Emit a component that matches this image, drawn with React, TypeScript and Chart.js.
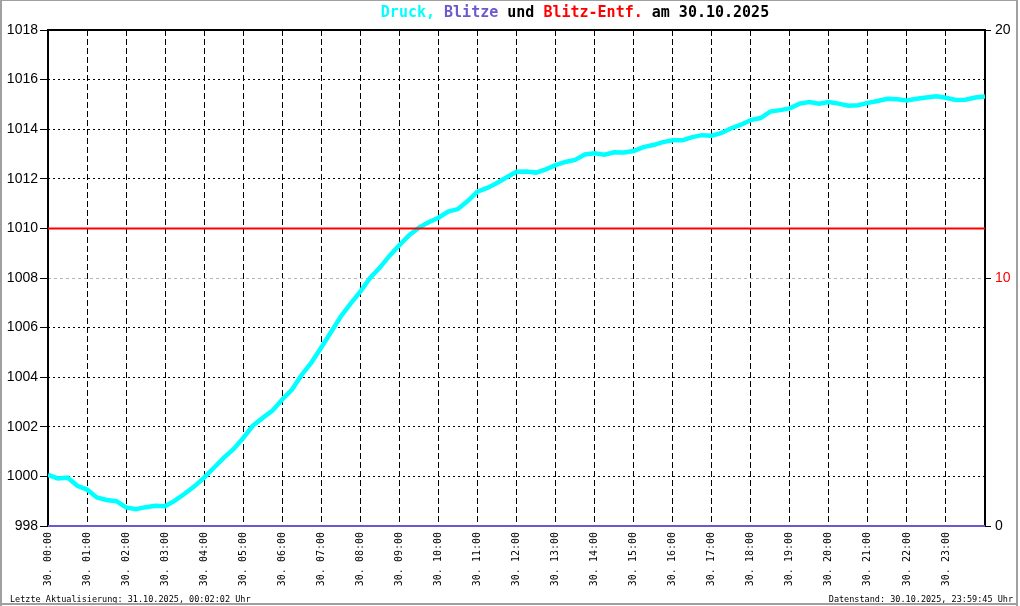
import React, { useEffect, useRef } from 'react';
import { Chart, registerables } from 'chart.js';

Chart.register(...registerables);

// Zeit in Minuten seit 00:00
const minuten = [
  0, 15, 30, 45, 60, 75, 90, 105, 120, 135,
  150, 165, 180, 195, 210, 225, 240, 255, 270, 285,
  300, 315, 330, 345, 360, 375, 390, 405, 420, 435,
  450, 465, 480, 495, 510, 525, 540, 555, 570, 585,
  600, 615, 630, 645, 660, 675, 690, 705, 720, 735,
  750, 765, 780, 795, 810, 825, 840, 855, 870, 885,
  900, 915, 930, 945, 960, 975, 990, 1005, 1020, 1035,
  1050, 1065, 1080, 1095, 1110, 1125, 1140, 1155, 1170, 1185,
  1200, 1215, 1230, 1245, 1260, 1275, 1290, 1305, 1320, 1335,
  1350, 1365, 1380, 1395, 1410, 1425, 1440,
];

// Luftdruck in hPa
const druck = [
  1000.06, 999.92, 999.95, 999.62, 999.47, 999.15, 999.05, 999.0, 998.75, 998.68,
  998.76, 998.82, 998.8, 999.02, 999.3, 999.6, 999.95, 1000.35, 1000.75, 1001.1,
  1001.55, 1002.05, 1002.36, 1002.65, 1003.1, 1003.5, 1004.1, 1004.6, 1005.2, 1005.82,
  1006.45, 1006.97, 1007.45, 1008.0, 1008.42, 1008.9, 1009.32, 1009.73, 1010.03, 1010.25,
  1010.43, 1010.68, 1010.78, 1011.1, 1011.48, 1011.63, 1011.83, 1012.06, 1012.28, 1012.29,
  1012.25, 1012.38, 1012.55, 1012.68, 1012.76, 1012.98, 1013.03, 1012.97, 1013.07, 1013.06,
  1013.12, 1013.28, 1013.36, 1013.48, 1013.55, 1013.55, 1013.68, 1013.76, 1013.74, 1013.85,
  1014.04, 1014.18, 1014.37, 1014.45, 1014.71, 1014.77, 1014.84, 1015.03, 1015.1, 1015.03,
  1015.1, 1015.03, 1014.95, 1014.97, 1015.06, 1015.14, 1015.23, 1015.21, 1015.16, 1015.23,
  1015.28, 1015.33, 1015.27, 1015.18, 1015.19, 1015.28, 1015.32,
];

// Blitze (Anzahl) und Blitz-Entfernung, rechte Achse
const blitzeZeit = [0, 1440];
const blitze = [0, 0];
const blitzEntfZeit = [0, 1440];
const blitzEntf = [12, 12];

const stundenLabels = [
  '30. 00:00', '30. 01:00', '30. 02:00', '30. 03:00', '30. 04:00', '30. 05:00',
  '30. 06:00', '30. 07:00', '30. 08:00', '30. 09:00', '30. 10:00', '30. 11:00',
  '30. 12:00', '30. 13:00', '30. 14:00', '30. 15:00', '30. 16:00', '30. 17:00',
  '30. 18:00', '30. 19:00', '30. 20:00', '30. 21:00', '30. 22:00', '30. 23:00',
];

const titelTeile: [string, string][] = [
  ['Druck,', '#00ffff'],
  [' ', '#000000'],
  ['Blitze', '#6a5acd'],
  [' und ', '#000000'],
  ['Blitz-Entf.', '#ff0000'],
  [' am 30.10.2025', '#000000'],
];

const fussLinks = 'Letzte Aktualisierung: 31.10.2025, 00:02:02 Uhr';
const fussRechts = 'Datenstand: 30.10.2025, 23:59:45 Uhr';

const MONO = "'DejaVu Sans Mono', monospace";
const SANS = "'Liberation Sans', Arial, sans-serif";

const zeichenPlugin = {
  id: 'zeichen',
  beforeDatasetsDraw(chart: any) {
    const { ctx, chartArea } = chart;
    const { left, top, right, bottom } = chartArea;
    ctx.save();
    ctx.strokeStyle = '#000';
    ctx.lineWidth = 2;
    ctx.strokeRect(left, top, right - left, bottom - top);
    ctx.restore();
  },
  afterDraw(chart: any) {
    const { ctx } = chart;
    ctx.save();
    // Titel
    ctx.font = `bold 15px ${MONO}`;
    ctx.textBaseline = 'middle';
    ctx.textAlign = 'left';
    const gesamt = titelTeile.reduce((s, t) => s + ctx.measureText(t[0]).width, 0);
    let x = 575 - gesamt / 2;
    for (const [txt, col] of titelTeile) {
      ctx.fillStyle = col;
      ctx.fillText(txt, x, 13);
      x += ctx.measureText(txt).width;
    }
    // Fusszeilen
    ctx.font = `8.5px ${MONO}`;
    ctx.fillStyle = '#000';
    ctx.textBaseline = 'alphabetic';
    ctx.textAlign = 'left';
    ctx.fillText(fussLinks, 10, 602);
    ctx.textAlign = 'right';
    ctx.fillText(fussRechts, 1013, 602);
    // grauer Rahmen
    ctx.fillStyle = '#a0a0a0';
    ctx.fillRect(0, 0, 2, 606);
    ctx.fillRect(0, 0, 1018, 1);
    ctx.fillRect(1016, 0, 2, 606);
    ctx.fillRect(0, 603, 1018, 2);
    ctx.restore();
  },
};

export default function App() {
  const ref = useRef<HTMLCanvasElement>(null);

  useEffect(() => {
    const canvas = ref.current;
    if (!canvas) return;
    const chart = new Chart(canvas, {
      type: 'line',
      data: {
        datasets: [
          {
            label: 'Blitz-Entf.',
            data: blitzEntfZeit.map((t, i) => ({ x: t, y: blitzEntf[i] })),
            borderColor: '#ff0000',
            borderWidth: 2,
            pointRadius: 0,
            yAxisID: 'y2',
          },
          {
            label: 'Blitze',
            data: blitzeZeit.map((t, i) => ({ x: t, y: blitze[i] })),
            borderColor: '#6a5acd',
            borderWidth: 2,
            pointRadius: 0,
            yAxisID: 'y2',
            clip: 4,
          },
          {
            label: 'Druck',
            data: minuten.map((t, i) => ({ x: t, y: druck[i] })),
            borderColor: '#00ffff',
            borderWidth: 4.5,
            pointRadius: 0,
            tension: 0,
            yAxisID: 'y',
          },
        ],
      },
      options: {
        animation: false,
        responsive: false,
        devicePixelRatio: 1,
        layout: { padding: { top: 30, left: 0, right: 0, bottom: 0 } },
        plugins: { legend: { display: false }, tooltip: { enabled: false }, title: { display: false } },
        scales: {
          x: {
            type: 'linear',
            min: 0,
            max: 1440,
            afterFit: (s: any) => { s.height = 80; },
            ticks: {
              stepSize: 60,
              autoSkip: false,
              maxRotation: 90,
              minRotation: 90,
              padding: 6,
              color: '#000',
              font: { family: MONO, size: 10 },
              callback: (v: any) => stundenLabels[Math.round(Number(v) / 60)] ?? '',
            },
            grid: { color: '#000', lineWidth: 1, drawTicks: false },
            border: { display: false, dash: [6, 3] },
          },
          y: {
            position: 'left',
            min: 998,
            max: 1018,
            afterFit: (s: any) => { s.width = 48; },
            ticks: {
              stepSize: 2,
              padding: 2,
              color: '#000',
              font: { family: SANS, size: 14 },
              callback: (v: any) => String(Math.round(Number(v))),
            },
            grid: {
              color: (c: any) => (c.tick && c.tick.value === 1008 ? 'rgba(0,0,0,0)' : '#000'),
              lineWidth: 1,
              tickLength: 8,
              tickColor: '#000',
              tickWidth: 1,
              tickBorderDash: [],
            },
            border: { display: false, dash: [2, 3] },
          },
          y2: {
            position: 'right',
            min: 0,
            max: 20,
            afterFit: (s: any) => { s.width = 35; },
            ticks: {
              stepSize: 10,
              padding: 4,
              color: (c: any) => (c.tick && c.tick.value === 10 ? '#ff0000' : '#000'),
              font: { family: SANS, size: 14 },
              callback: (v: any) => String(Math.round(Number(v))),
            },
            grid: {
              color: (c: any) => (c.tick && c.tick.value === 10 ? '#b4b4b4' : 'rgba(0,0,0,0)'),
              lineWidth: 1,
              tickLength: 6,
              tickColor: '#000',
              tickWidth: 1,
              tickBorderDash: [],
            },
            border: { display: false, dash: [3, 3] },
          },
        },
      },
      plugins: [zeichenPlugin],
    } as any);
    return () => chart.destroy();
  }, []);

  return (
    <div style={{ position: 'absolute', left: 0, top: 0, width: 1020, height: 606, background: '#fff' }}>
      <canvas ref={ref} width={1020} height={606} style={{ display: 'block' }} />
    </div>
  );
}
